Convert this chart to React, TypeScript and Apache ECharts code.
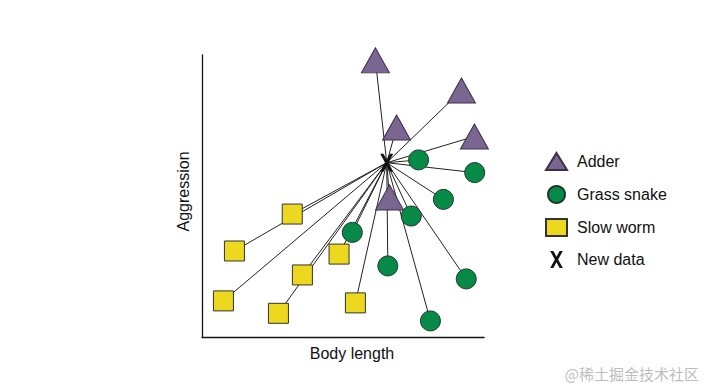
import React, { useEffect, useRef } from "react";
import * as echarts from "echarts";

const newData: [number, number] = [6.55, 6.18];
const adder: [number, number][] = [
  [6.15, 9.81],
  [9.2, 8.74],
  [6.9, 7.43],
  [9.66, 7.11],
  [6.65, 4.95],
];
const grassSnake: [number, number][] = [
  [7.68, 6.28],
  [9.67, 5.83],
  [8.56, 4.88],
  [7.42, 4.29],
  [5.33, 3.71],
  [6.59, 2.52],
  [9.37, 2.06],
  [8.1, 0.57],
];
const slowWorm: [number, number][] = [
  [3.2, 4.36],
  [1.15, 3.05],
  [4.86, 2.94],
  [3.56, 2.2],
  [0.76, 1.28],
  [2.71, 0.84],
  [5.44, 1.21],
];
const legendNames = ["Adder", "Grass snake", "Slow worm", "New data"];
const xName = "Body length";
const yName = "Aggression";
const watermark = "@稀土掘金技术社区";

const X_PATH =
  "path://M0,0 L5,0 L10,9 L15,0 L20,0 L12.6,13.5 L20,27 L15,27 L10,18 L5,27 L0,27 L7.4,13.5 Z";

export default function App() {
  const ref = useRef<HTMLDivElement>(null);
  useEffect(() => {
    if (!ref.current) return;
    const chart = echarts.init(ref.current, undefined, { renderer: "svg" });
    const all = [...adder, ...grassSnake, ...slowWorm];
    const font = "'Liberation Sans', Arial, sans-serif";
    chart.setOption({
      animation: false,
      backgroundColor: "#ffffff",
      grid: { left: 202, right: 221, top: 55, bottom: 52 },
      xAxis: {
        type: "value",
        min: 0,
        max: 10,
        name: xName,
        nameLocation: "middle",
        nameGap: 8,
        nameTextStyle: { fontFamily: font, fontSize: 16, color: "#111", padding: [0, 0, 0, 18] },
        axisLine: { show: true, lineStyle: { color: "#111", width: 1.3 } },
        axisTick: { show: false },
        axisLabel: { show: false },
        splitLine: { show: false },
      },
      yAxis: {
        type: "value",
        min: 0,
        max: 10,
        name: yName,
        nameLocation: "middle",
        nameGap: 11,
        nameTextStyle: { fontFamily: font, fontSize: 16, color: "#111", padding: [0, 0, 0, 9] },
        axisLine: { show: true, lineStyle: { color: "#111", width: 1.3 } },
        axisTick: { show: false },
        axisLabel: { show: false },
        splitLine: { show: false },
      },
      legend: {
        orient: "vertical",
        left: 540,
        top: 147,
        itemWidth: 21,
        itemHeight: 17,
        itemGap: 14,
        textStyle: { fontFamily: font, fontSize: 16, color: "#111", padding: [0, 0, 0, 5] },
        data: legendNames,
      },
      series: [
        {
          name: "links",
          type: "lines",
          coordinateSystem: "cartesian2d",
          z: 1,
          silent: true,
          lineStyle: { color: "#222", width: 1, opacity: 1 },
          data: all.map((p) => ({ coords: [newData, p] })),
        },
        {
          name: "Adder",
          type: "scatter",
          z: 3,
          symbol: "triangle",
          symbolSize: [28, 25],
          itemStyle: { color: "#7a6690", borderColor: "#3b3046", borderWidth: 1, opacity: 1 },
          data: adder,
        },
        {
          name: "Grass snake",
          type: "scatter",
          z: 3,
          symbol: "circle",
          symbolSize: 20,
          itemStyle: { color: "#078a48", borderColor: "#1e3a28", borderWidth: 1, opacity: 1 },
          data: grassSnake,
        },
        {
          name: "Slow worm",
          type: "scatter",
          z: 3,
          symbol: "rect",
          symbolSize: 20,
          itemStyle: { color: "#ecd91f", borderColor: "#333", borderWidth: 1, opacity: 1 },
          data: slowWorm,
        },
        {
          name: "New data",
          type: "scatter",
          z: 4,
          symbol: X_PATH,
          symbolSize: [13, 18],
          itemStyle: { color: "#111", opacity: 1 },
          data: [newData],
        },
      ],
      graphic: [
        {
          type: "text",
          right: 6,
          top: 366,
          style: {
            text: watermark,
            fill: "#bdbdbd",
            font: "15px 'Noto Sans CJK SC', sans-serif",
          },
        },
      ],
    });
    return () => chart.dispose();
  }, []);
  return (
    <div
      ref={ref}
      style={{ position: "fixed", left: 0, top: 0, width: 705, height: 389 }}
    />
  );
}
